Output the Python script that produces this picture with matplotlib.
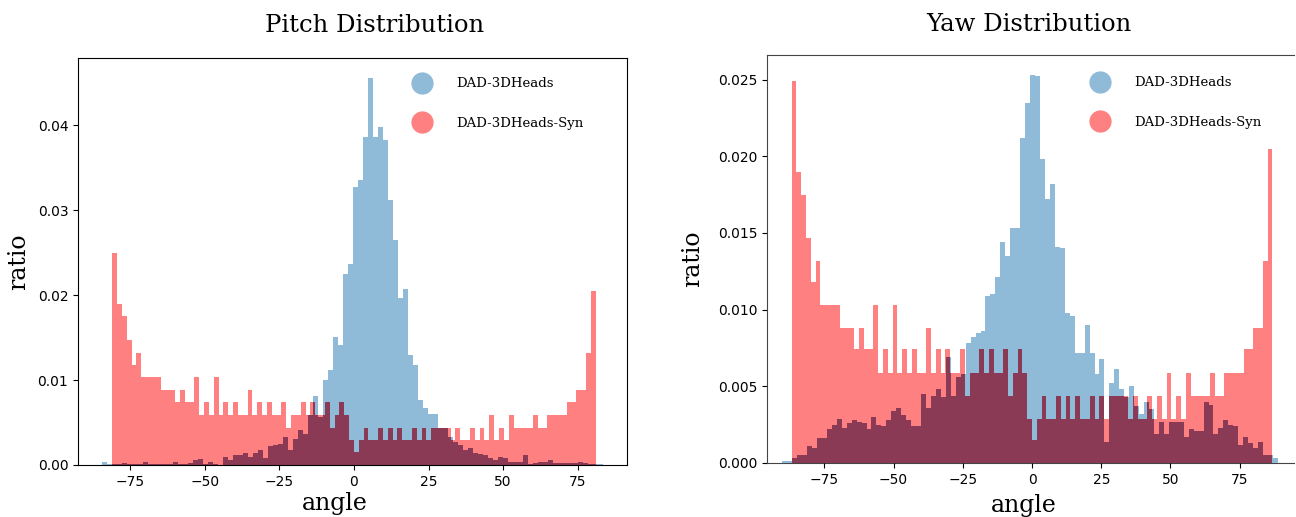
import matplotlib
matplotlib.use("Agg")
import matplotlib.pyplot as plt
import numpy as np
from matplotlib.lines import Line2D

# ── data: per-bin ratios (100 bins each) ──

# synthetic set (same bin ratios in both panels, different angle range)
syn_ratio = [
    0.0249, 0.0190, 0.0175, 0.0147, 0.0118, 0.0132, 0.0103, 0.0103, 0.0103, 0.0103,
    0.0088, 0.0088, 0.0088, 0.0074, 0.0088, 0.0074, 0.0074, 0.0103, 0.0059, 0.0074,
    0.0059, 0.0103, 0.0059, 0.0074, 0.0059, 0.0074, 0.0059, 0.0059, 0.0088, 0.0059,
    0.0074, 0.0059, 0.0074, 0.0059, 0.0059, 0.0074, 0.0044, 0.0059, 0.0059, 0.0074,
    0.0059, 0.0074, 0.0059, 0.0059, 0.0074, 0.0044, 0.0059, 0.0074, 0.0059, 0.0029,
    0.0015, 0.0029, 0.0044, 0.0029, 0.0029, 0.0044, 0.0029, 0.0044, 0.0029, 0.0044,
    0.0029, 0.0029, 0.0044, 0.0029, 0.0044, 0.0029, 0.0044, 0.0044, 0.0044, 0.0044,
    0.0029, 0.0044, 0.0029, 0.0029, 0.0044, 0.0029, 0.0044, 0.0029, 0.0059, 0.0029,
    0.0044, 0.0029, 0.0059, 0.0044, 0.0044, 0.0044, 0.0044, 0.0059, 0.0044, 0.0044,
    0.0059, 0.0059, 0.0059, 0.0059, 0.0074, 0.0074, 0.0088, 0.0088, 0.0132, 0.0205,
]
syn_pitch_range = (-81.0, 81.0)
syn_yaw_range = (-86.8, 86.8)

real_pitch = [
    0.0004, 0.0001, 0.0001, 0.0001, 0.0002, 0.0001, 0.0001, 0.0001, 0.0004, 0.0001,
    0.0001, 0.0001, 0.0001, 0.0001, 0.0004, 0.0001, 0.0001, 0.0002, 0.0006, 0.0007,
    0.0001, 0.0004, 0.0001, 0.0000, 0.0010, 0.0006, 0.0012, 0.0012, 0.0014, 0.0010,
    0.0014, 0.0018, 0.0008, 0.0022, 0.0024, 0.0025, 0.0033, 0.0018, 0.0031, 0.0041,
    0.0036, 0.0059, 0.0081, 0.0056, 0.0100, 0.0112, 0.0151, 0.0141, 0.0225, 0.0237,
    0.0327, 0.0336, 0.0386, 0.0456, 0.0386, 0.0398, 0.0382, 0.0312, 0.0265, 0.0196,
    0.0207, 0.0129, 0.0118, 0.0076, 0.0067, 0.0060, 0.0060, 0.0043, 0.0043, 0.0033,
    0.0027, 0.0024, 0.0018, 0.0020, 0.0014, 0.0013, 0.0012, 0.0008, 0.0006, 0.0010,
    0.0008, 0.0004, 0.0003, 0.0004, 0.0012, 0.0001, 0.0002, 0.0003, 0.0004, 0.0006,
    0.0002, 0.0002, 0.0002, 0.0002, 0.0002, 0.0003, 0.0002, 0.0001, 0.0001, 0.0001,
]
real_pitch_range = (-84.3, 83.5)

real_yaw = [
    0.0001, 0.0001, 0.0003, 0.0005, 0.0005, 0.0011, 0.0010, 0.0016, 0.0016, 0.0022,
    0.0025, 0.0029, 0.0023, 0.0026, 0.0028, 0.0027, 0.0026, 0.0022, 0.0030, 0.0025,
    0.0024, 0.0028, 0.0034, 0.0036, 0.0031, 0.0028, 0.0024, 0.0024, 0.0045, 0.0036,
    0.0044, 0.0048, 0.0043, 0.0069, 0.0044, 0.0056, 0.0058, 0.0078, 0.0082, 0.0085,
    0.0086, 0.0109, 0.0110, 0.0121, 0.0144, 0.0135, 0.0153, 0.0153, 0.0212, 0.0235,
    0.0253, 0.0252, 0.0198, 0.0172, 0.0182, 0.0141, 0.0140, 0.0098, 0.0096, 0.0072,
    0.0072, 0.0090, 0.0072, 0.0058, 0.0068, 0.0014, 0.0052, 0.0061, 0.0048, 0.0043,
    0.0050, 0.0037, 0.0032, 0.0040, 0.0035, 0.0019, 0.0027, 0.0019, 0.0027, 0.0027,
    0.0027, 0.0017, 0.0022, 0.0021, 0.0021, 0.0040, 0.0038, 0.0019, 0.0023, 0.0028,
    0.0025, 0.0024, 0.0012, 0.0017, 0.0013, 0.0010, 0.0014, 0.0005, 0.0005, 0.0003,
]
real_yaw_range = (-90.2, 88.8)

labels = ["DAD-3DHeads", "DAD-3DHeads-Syn"]
titles = ["Pitch Distribution", "Yaw Distribution"]

BLUE = "#8fbbd9"
RED = "#ff8080"
OVERLAP = "#8b3a56"
SERIF = ["DejaVu Serif"]


def edges(rng, n):
    return np.linspace(rng[0], rng[1], n + 1)


def draw(ax, real, real_rng, syn, syn_rng):
    blue = ax.stairs(real, edges(real_rng, len(real)), fill=True, color=BLUE, zorder=1)
    ax.stairs(syn, edges(syn_rng, len(syn)), fill=True, color=RED, zorder=1.1)
    # where both sets overlap the bars show a dark maroon
    both = ax.stairs(syn, edges(syn_rng, len(syn)), fill=True, color=OVERLAP, zorder=1.2)
    both.set_clip_path(blue)


fig = plt.figure(figsize=(12.96, 5.17), dpi=100)
ax1 = fig.add_axes([78 / 1296, 52 / 517, 549 / 1296, 407 / 517])
ax2 = fig.add_axes([767 / 1296, 54 / 517, 527 / 1296, 408 / 517])

draw(ax1, real_pitch, real_pitch_range, syn_ratio, syn_pitch_range)
draw(ax2, real_yaw, real_yaw_range, syn_ratio, syn_yaw_range)

ax1.set_xlim(-92.5, 91.5)
ax1.set_ylim(0, 0.0479)
ax1.set_yticks([0, 0.01, 0.02, 0.03, 0.04])
ax1.yaxis.set_major_formatter(lambda v, _: f"{v:.2f}")

ax2.set_xlim(-95.7, 94.6)
ax2.set_ylim(0, 0.0266)
ax2.set_yticks([0, 0.005, 0.01, 0.015, 0.02, 0.025])
ax2.yaxis.set_major_formatter(lambda v, _: f"{v:.3f}")
ax2.spines["bottom"].set_zorder(0.5)
ax2.spines["right"].set_visible(False)
for s in ax2.spines.values():
    s.set_color("#444444")

handles = [
    Line2D([], [], marker="o", linestyle="none", markersize=15, color=BLUE),
    Line2D([], [], marker="o", linestyle="none", markersize=15, color=RED),
]

for ax, title, tx, ty, lx, ly, yx, leg_x, leg_y in [
    (ax1, titles[0], 0.541, 1.081, 0.468, -0.066, -0.088, 0.585, 0.975),
    (ax2, titles[1], 0.497, 1.074, 0.488, -0.075, -0.12, 0.59, 0.97),
]:
    ax.set_xticks([-75, -50, -25, 0, 25, 50, 75])
    ax.tick_params(labelsize=10)
    ax.text(tx, ty, title, transform=ax.transAxes, ha="center", va="center",
            fontsize=17.5, family=SERIF)
    ax.set_xlabel("angle", fontsize=17, family=SERIF)
    ax.xaxis.set_label_coords(lx, ly)
    ax.set_ylabel("ratio", fontsize=17, family=SERIF)
    ax.yaxis.set_label_coords(yx, 0.5)
    ax.legend(handles, labels, loc="upper left", bbox_to_anchor=(leg_x, leg_y),
              frameon=False, prop={"family": SERIF, "size": 9.5},
              labelspacing=2.0, handletextpad=1.6, borderaxespad=0.3)

fig.savefig("out.png", dpi=100)
